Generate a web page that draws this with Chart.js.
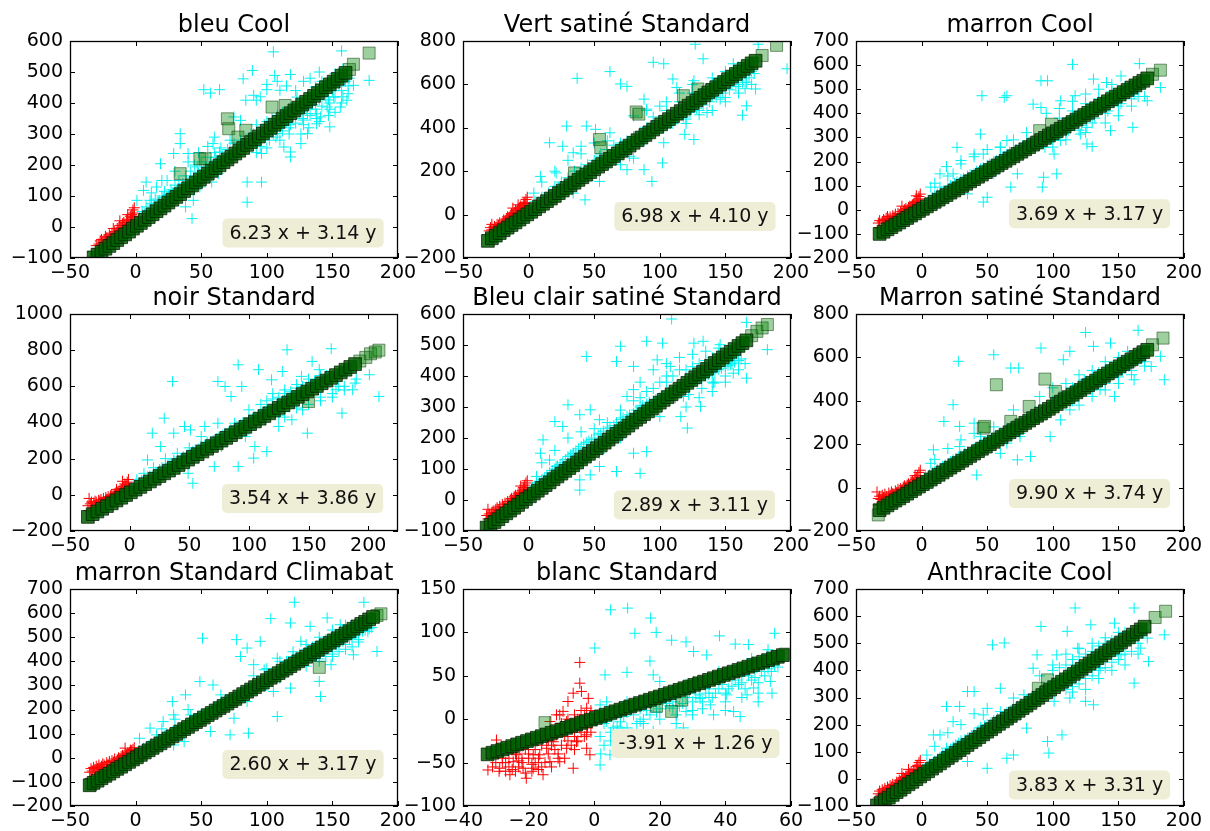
<!DOCTYPE html>
<html><head><meta charset="utf-8">
<script src="https://cdn.jsdelivr.net/npm/chart.js@4/dist/chart.umd.min.js"></script>
<style>
html,body{margin:0;padding:0;background:#fff;width:1210px;height:831px;overflow:hidden;position:relative;}
canvas{position:absolute;}
</style></head><body>
<script>
// ---------------- DATA ----------------
const titles = ['bleu Cool','Vert satiné Standard','marron Cool','noir Standard','Bleu clair satiné Standard','Marron satiné Standard','marron Standard Climabat','blanc Standard','Anthracite Cool'];
const equations = ['6.23 x + 3.14 y','6.98 x + 4.10 y','3.69 x + 3.17 y','3.54 x + 3.86 y','2.89 x + 3.11 y','9.90 x + 3.74 y','2.60 x + 3.17 y','-3.91 x + 1.26 y','3.83 x + 3.31 y'];
const xTicks = [
 [-50,0,50,100,150,200],[-50,0,50,100,150,200],[-50,0,50,100,150,200],
 [-50,0,50,100,150,200],[-50,0,50,100,150,200],[-50,0,50,100,150,200],
 [-50,0,50,100,150,200],[-40,-20,0,20,40,60],[-50,0,50,100,150,200]];
const xMax = [200,200,200,225,200,200,200,60,200];
const yTicks = [
 [-100,0,100,200,300,400,500,600],
 [-200,0,200,400,600,800],
 [-200,-100,0,100,200,300,400,500,600,700],
 [-200,0,200,400,600,800,1000],
 [-100,0,100,200,300,400,500,600],
 [-200,0,200,400,600,800],
 [-200,-100,0,100,200,300,400,500,600,700],
 [-100,-50,0,50,100,150],
 [-100,0,100,200,300,400,500,600,700]];
const noteAt = [[127.6,-19],[126.8,-9],[128,-16],[145,-20],[126.4,-16],[128,-27],[127.6,-28],[30.9,-28],[128,-22.6]];

// panel 1 — bleu Cool
const fit1 = [[-32,-98],[-29,-89],[-26,-80],[-23,-70],[-20,-61],[-17,-52],[-14,-42],[-11,-33],[-8,-24],[-5,-15],[-2,-5],[1,4],[4,13],[7,23],[10,32],[13,41],[16,51],[19,60],[22,69],[25,79],[28,88],[31,97],[34,106],[37,116],[40,125],[43,134],[46,144],[49,153],[52,162],[55,172],[58,181],[61,190],[64,199],[67,209],[70,218],[73,227],[76,237],[79,246],[82,255],[85,265],[88,274],[91,283],[94,292],[97,302],[100,311],[103,320],[106,330],[109,339],[112,348],[115,358],[118,367],[121,376],[124,385],[127,395],[130,404],[133,413],[136,423],[139,432],[142,441],[145,451],[148,460],[151,469],[154,478],[157,488],[160,497]];
const stray1 = [[34,172],[49,220],[53,220],[70,349],[71,317],[78,290],[84,312],[104,387],[114,392],[163,508],[166,525],[178,561]];
const cyan1 = [[105,565],[157,568],[89,505],[82,478],[106,489],[118,492],[52,443],[57,432],[64,443],[178,473],[166,457],[100,443],[90,425],[84,409],[92,409],[110,441],[123,419],[136,409],[151,419],[156,387],[141,355],[148,323],[131,301],[118,242],[113,258],[96,237],[85,258],[75,355],[80,344],[72,280],[64,242],[59,269],[54,194],[63,172],[58,145],[49,129],[44,86],[38,65],[43,27],[34,301],[34,269],[40,237],[47,194],[29,237],[19,204],[24,150],[16,129],[8,145],[6,118],[1,86],[11,86],[85,145],[85,80],[96,145],[126,269],[118,226],[108,301],[138,333],[146,441],[137,452],[159,473],[161,409],[131,366],[146,387],
 [8,65],[12,75],[15,90],[20,100],[22,115],[27,120],[30,135],[33,150],[38,165],[42,180],[5,50],[18,85],[25,105],[45,200],[50,210],[55,225],[60,240],[65,255],[62,215],[58,190],[75,270],[80,280],[88,300],[92,330],[98,290],[105,300],[110,320],[115,340],[120,355],[125,370],[130,380],[135,395],[140,410],[145,420],[150,440],[155,455],[160,470],[128,345],[138,365],[148,400],[118,330],[142,470],[152,495],[158,510],[108,360],[100,340],
 [3,30],[7,45],[11,55],[14,70],[17,80],[21,95],[24,95],[28,110],[31,118],[36,140],[39,150],[44,160],[48,175],[52,185],[57,205],[61,225],[66,230],[70,250],[95,260],[102,280],[107,290],[112,310],[117,320],[122,335],[127,350],[133,360],[137,380],[142,390],[147,410],[152,420],[157,440],[162,455],[98,330],[104,350],[112,370],[122,400],[132,425],[143,455],[153,480],[117,300],[128,330],[138,350],[148,380],[158,420],[163,480],[90,300],[86,285],[82,265],
 [95,420],[100,460],[108,470],[115,455],[122,440],[128,470],[133,480],[140,500],[126,300],[132,320],[140,340],[147,360],[152,370],[157,400],[162,430],[110,280],[100,255],[92,240],[60,290],[55,260],[48,240],[40,210],[30,180],[20,150],[12,110],[45,120],[52,160]];
const red1 = [[-30,-60],[-28,-55],[-27,-45],[-25,-50],[-24,-40],[-22,-35],[-21,-42],[-20,-25],[-19,-30],[-18,-20],[-16,-15],[-15,-22],[-14,-5],[-13,-10],[-12,5],[-11,-2],[-10,10],[-9,15],[-8,5],[-7,20],[-6,25],[-5,15],[-4,35],[-3,40],[-2,55],[-1,62],[-2,30],[-6,40],[-12,20],[-17,-5],[-23,-30],[-26,-40],
 [-29,-70],[-26,-60],[-23,-50],[-20,-40],[-17,-30],[-14,-20],[-11,-10],[-8,-2],[-5,8],[-3,20],[-1,35],[-2,45]];

// panel 2 — Vert satiné Standard
const fit2 = [[-31,-121],[-28,-109],[-25,-97],[-22,-85],[-19,-72],[-16,-60],[-13,-48],[-10,-36],[-7,-23],[-4,-11],[-1,1],[2,13],[5,25],[8,38],[11,50],[14,62],[17,74],[20,86],[23,99],[26,111],[29,123],[32,135],[35,147],[38,160],[41,172],[44,184],[47,196],[50,209],[53,221],[56,233],[59,245],[62,257],[65,270],[68,282],[71,294],[74,306],[77,318],[80,331],[83,343],[86,355],[89,367],[92,379],[95,392],[98,404],[101,416],[104,428],[107,440],[110,453],[113,465],[116,477],[119,489],[122,502],[125,514],[128,526],[131,538],[134,550],[137,563],[140,575],[143,587],[146,599],[149,611],[152,624],[155,636],[158,648],[161,660],[164,672],[167,685],[170,697],[173,709]];
const stray2 = [[35,192],[54,346],[55,308],[82,473],[84,463],[118,548],[129,579],[178,733],[189,780]];
const cyan2 = [[37,628],[62,659],[70,602],[75,591],[95,702],[103,695],[80,455],[90,486],[88,532],[110,625],[113,586],[126,617],[133,718],[156,695],[151,641],[166,610],[173,579],[163,458],[146,532],[136,470],[126,346],[119,370],[100,408],[103,331],[95,377],[166,501],[197,672],[175,785],[127,785],[29,408],[44,408],[51,393],[62,377],[16,331],[26,315],[34,285],[40,315],[54,269],[62,238],[75,207],[67,269],[88,207],[94,153],[54,153],[43,68],[34,99],[21,192],[9,176],[24,130],[4,99],[102,238],[77,269],
 [5,60],[10,80],[15,100],[20,130],[25,150],[30,170],[35,200],[40,215],[45,230],[50,250],[55,280],[60,300],[65,320],[70,330],[75,340],[80,360],[85,380],[90,400],[95,420],[100,430],[105,440],[110,460],[115,470],[120,480],[125,500],[130,520],[135,530],[140,545],[145,570],[150,580],[155,600],[160,620],[165,640],[170,660],[140,600],[150,640],[160,680],[130,480],[120,440],[110,420],[8,40],[28,110],[48,180],[68,255],[88,340],
 [4,40],[7,55],[12,70],[16,90],[19,110],[23,125],[27,140],[31,155],[37,175],[42,190],[47,205],[52,225],[57,250],[62,270],[67,290],[72,305],[78,330],[83,350],[88,360],[93,375],[98,390],[103,400],[108,420],[113,440],[118,450],[123,470],[128,490],[133,505],[138,520],[143,540],[148,560],[153,575],[158,590],[163,610],[168,630],[172,650],[125,560],[135,580],[145,610],[155,650],[165,680],[115,520],[105,480],[95,450],[150,540],[160,600],
 [90,480],[100,500],[105,520],[115,560],[125,600],[140,630],[150,660],[120,420],[130,460],[140,480],[150,520],[160,560],[165,580],[170,600],[60,340],[50,330],[40,280],[30,250],[20,200],[10,150],[45,180],[70,230],[80,260]];
const red2 = [[-30,-75],[-29,-60],[-28,-70],[-26,-55],[-25,-62],[-24,-45],[-23,-50],[-22,-38],[-20,-40],[-19,-25],[-18,-30],[-17,-20],[-16,-10],[-15,-15],[-14,-5],[-13,5],[-12,0],[-11,10],[-10,20],[-9,12],[-8,25],[-7,30],[-6,40],[-5,35],[-4,50],[-3,55],[-2,70],[-1,80],[-3,40],[-8,45],[-12,30],[-28,-45],
 [-29,-88],[-26,-76],[-23,-64],[-20,-51],[-17,-39],[-14,-27],[-11,-15],[-8,-3],[-5,10],[-3,18],[-1,30],[-2,50]];

// panel 3 — marron Cool
const fit3 = [[-32,-100],[-29,-91],[-26,-81],[-23,-72],[-20,-62],[-17,-53],[-14,-43],[-11,-34],[-8,-24],[-5,-15],[-2,-5],[1,4],[4,14],[7,23],[10,33],[13,42],[16,52],[19,61],[22,71],[25,80],[28,89],[31,99],[34,108],[37,118],[40,127],[43,137],[46,146],[49,156],[52,165],[55,175],[58,184],[61,194],[64,203],[67,213],[70,222],[73,232],[76,241],[79,251],[82,260],[85,270],[88,279],[91,289],[94,298],[97,308],[100,317],[103,326],[106,336],[109,345],[112,355],[115,364],[118,374],[121,383],[124,393],[127,402],[130,412],[133,421],[136,431],[139,440],[142,450],[145,459],[148,469],[151,478],[154,488],[157,497],[160,507],[163,516],[166,526],[169,535],[172,545]];
const stray3 = [[90,328],[99,355],[176,562],[182,579]];
const cyan3 = [[115,603],[166,606],[46,473],[63,466],[65,473],[91,535],[96,535],[85,438],[91,424],[106,452],[117,473],[131,542],[141,528],[152,555],[182,507],[172,452],[161,342],[144,328],[126,273],[130,262],[121,314],[106,287],[94,259],[101,231],[103,149],[93,135],[92,94],[73,231],[65,287],[60,259],[45,314],[47,231],[27,259],[30,204],[40,231],[19,179],[24,149],[14,149],[7,94],[14,94],[35,66],[50,52],[47,32],[60,179],[68,94],[85,273],[73,149],[55,149],[126,342],
 [5,40],[10,60],[15,75],[20,90],[25,110],[30,125],[35,140],[40,150],[45,170],[50,185],[55,200],[60,215],[65,230],[70,245],[75,255],[80,270],[85,285],[90,300],[95,315],[100,330],[105,345],[110,360],[115,375],[120,390],[125,400],[130,415],[135,430],[140,440],[145,455],[150,470],[155,485],[160,500],[165,515],[170,530],[120,330],[130,360],[140,400],[150,430],[160,460],[110,320],[100,290],[90,270],[165,470],[60,260],[70,290],[80,320],
 [3,30],[8,50],[12,65],[17,80],[22,100],[27,115],[32,130],[37,145],[42,160],[47,175],[52,190],[57,205],[62,220],[67,240],[72,250],[77,265],[82,280],[87,290],[92,305],[97,320],[102,335],[107,350],[112,365],[117,380],[122,395],[127,405],[132,420],[137,435],[142,445],[147,460],[152,475],[157,490],[162,505],[167,520],[105,380],[115,410],[125,440],[135,460],[145,490],[155,510],[112,330],[122,350],[132,380],[142,410],[152,440],[162,480],
 [95,400],[105,420],[115,450],[125,480],[135,500],[145,520],[100,260],[110,290],[125,320],[140,360],[150,390],[160,430],[170,470],[50,250],[40,220],[30,190],[20,140],[10,110],[60,200],[70,220]];
const red3 = [[-33,-55],[-32,-45],[-30,-50],[-29,-40],[-28,-45],[-27,-35],[-25,-38],[-24,-30],[-22,-25],[-21,-30],[-20,-18],[-18,-15],[-17,-20],[-16,-8],[-14,-5],[-13,0],[-12,5],[-11,-2],[-10,10],[-9,15],[-8,12],[-7,20],[-6,25],[-5,30],[-4,35],[-3,40],[-2,55],[-1,65],[-2,45],[-4,58],[-15,15],[-26,-28],
 [-32,-75],[-29,-66],[-26,-56],[-23,-47],[-20,-37],[-17,-28],[-14,-18],[-11,-9],[-8,1],[-5,10],[-3,17],[-1,23]];

// panel 4 — noir Standard
const fit4 = [[-35,-122],[-31,-107],[-27,-92],[-23,-77],[-19,-62],[-15,-47],[-11,-31],[-7,-16],[-3,-1],[1,14],[5,29],[9,44],[13,59],[17,74],[21,89],[25,104],[29,119],[33,134],[37,149],[41,165],[45,180],[49,195],[53,210],[57,225],[61,240],[65,255],[69,270],[73,285],[77,300],[81,315],[85,330],[89,346],[93,361],[97,376],[101,391],[105,406],[109,421],[113,436],[117,451],[121,466],[125,481],[129,496],[133,511],[137,526],[141,542],[145,557],[149,572],[153,587],[157,602],[161,617],[165,632],[169,647],[173,662],[177,677],[181,692],[185,707],[189,723]];
const stray4 = [[150,516],[193,740],[198,760],[202,780],[206,790],[209,800]];
const cyan4 = [[36,627],[132,802],[169,808],[91,719],[108,692],[74,627],[80,599],[94,599],[85,544],[119,636],[128,682],[153,738],[159,692],[144,655],[201,664],[209,544],[187,581],[178,452],[149,341],[136,415],[125,378],[115,239],[105,267],[97,322],[88,396],[74,396],[60,322],[63,378],[51,359],[46,378],[37,341],[29,424],[19,341],[26,267],[15,193],[12,119],[6,83],[23,119],[37,193],[53,64],[49,119],[71,156],[91,156],[104,203],[77,267],[173,581],[167,655],[189,618],
 [5,60],[10,80],[15,100],[20,120],[25,140],[30,160],[35,175],[40,190],[45,210],[50,230],[55,250],[60,270],[65,290],[70,300],[75,320],[80,340],[85,360],[90,380],[95,400],[100,410],[105,430],[110,450],[115,470],[120,480],[125,500],[130,520],[135,540],[140,560],[145,570],[150,590],[155,610],[160,620],[165,640],[170,650],[175,670],[180,690],[185,700],[120,560],[130,580],[140,610],[150,640],[160,660],[110,400],[130,460],[150,500],[170,560],[180,600],[190,640],[100,360],[90,340],
 [3,40],[8,65],[12,85],[17,105],[22,125],[27,150],[32,165],[38,185],[43,200],[48,220],[53,240],[58,255],[63,275],[68,295],[73,310],[78,330],[83,345],[88,365],[93,385],[98,395],[103,420],[108,440],[113,460],[118,470],[123,490],[128,510],[133,530],[138,545],[143,565],[148,580],[153,600],[158,610],[163,630],[168,645],[173,660],[178,680],[183,690],[188,700],[115,520],[125,540],[135,570],[145,600],[155,630],[165,660],[125,440],[140,480],[160,540],[175,600],
 [100,470],[110,500],[120,530],[130,560],[140,590],[150,620],[160,650],[130,430],[145,470],[160,520],[170,540],[180,580],[40,230],[30,200],[20,150],[50,260],[60,230],[70,250]];
const red4 = [[-35,-60],[-34,-20],[-33,-50],[-32,-40],[-30,-45],[-29,-35],[-28,-40],[-26,-30],[-25,-35],[-24,-25],[-22,-20],[-20,-15],[-19,-25],[-18,-10],[-16,-5],[-15,0],[-14,-8],[-13,5],[-12,10],[-10,15],[-9,20],[-8,25],[-7,30],[-6,35],[-5,45],[-4,60],[-3,55],[-2,70],[-1,85],[-3,40],[-6,75],[-11,30],
 [-34,-88],[-31,-77],[-28,-66],[-25,-54],[-22,-43],[-19,-32],[-16,-20],[-13,-9],[-10,2],[-7,14],[-4,25],[-1,36]];

// panel 5 — Bleu clair satiné Standard
const fit5 = [[-32,-89],[-29,-80],[-26,-71],[-23,-62],[-20,-52],[-17,-43],[-14,-34],[-11,-25],[-8,-16],[-5,-6],[-2,3],[1,12],[4,21],[7,30],[10,39],[13,48],[16,57],[19,67],[22,76],[25,85],[28,94],[31,103],[34,112],[37,121],[40,131],[43,140],[46,149],[49,158],[52,167],[55,176],[58,185],[61,195],[64,204],[67,213],[70,222],[73,231],[76,240],[79,250],[82,259],[85,268],[88,277],[91,286],[94,295],[97,304],[100,314],[103,323],[106,332],[109,341],[112,350],[115,359],[118,368],[121,378],[124,387],[127,396],[130,405],[133,414],[136,423],[139,433],[142,442],[145,451],[148,460],[151,469],[154,478],[157,487],[160,497],[163,506],[166,515]];
const stray5 = [[170,530],[174,544],[178,555],[182,566]];
const cyan5 = [[109,584],[166,573],[182,485],[44,463],[70,496],[67,447],[80,431],[90,512],[102,506],[98,452],[108,431],[126,506],[133,512],[146,501],[154,436],[166,393],[141,377],[131,302],[121,232],[116,269],[100,269],[80,356],[75,334],[75,237],[80,151],[90,156],[85,86],[67,92],[60,194],[54,259],[47,291],[39,275],[30,307],[20,253],[26,237],[11,194],[9,151],[16,129],[21,108],[34,151],[39,65],[47,81],[54,108],[6,76],[54,151],[39,32],[118,334],[156,409],
 [3,40],[6,55],[10,65],[14,80],[18,95],[22,110],[26,120],[30,140],[34,150],[38,165],[42,180],[46,190],[50,200],[55,215],[60,230],[65,240],[70,260],[75,270],[80,280],[85,300],[90,310],[95,320],[100,330],[105,340],[110,350],[115,360],[120,370],[125,380],[130,390],[135,400],[140,410],[145,420],[150,430],[155,440],[160,450],[100,380],[110,400],[120,420],[130,440],[140,460],[90,350],[80,320],[60,250],[70,290],[150,400],[140,380],[155,470],[160,480],
 [2,30],[5,45],[8,60],[12,70],[16,88],[20,100],[24,115],[28,130],[32,145],[36,158],[40,172],[44,185],[48,195],[53,210],[57,222],[62,235],[67,250],[72,265],[77,275],[82,290],[87,305],[92,315],[97,325],[102,335],[107,345],[112,355],[117,365],[122,375],[127,385],[132,395],[137,405],[142,415],[147,425],[152,435],[157,445],[162,455],[105,400],[115,420],[125,430],[135,450],[145,470],[105,380],[95,360],[85,330],[112,330],[122,340],[132,360],[142,380],
 [85,380],[95,420],[105,440],[115,460],[125,470],[135,480],[145,490],[120,300],[130,330],[140,350],[150,380],[160,420],[165,440],[40,220],[30,200],[20,160],[10,120],[50,230],[60,180],[70,200]];
const red5 = [[-32,-50],[-31,-30],[-30,-45],[-29,-55],[-28,-40],[-27,-35],[-26,-45],[-25,-30],[-24,-25],[-23,-35],[-22,-20],[-20,-15],[-19,-25],[-18,-10],[-16,-5],[-15,-12],[-14,0],[-13,5],[-12,-2],[-11,10],[-10,15],[-9,8],[-8,20],[-7,25],[-6,18],[-5,30],[-4,40],[-3,35],[-2,55],[-1,62],[-3,48],[-6,45],
 [-31,-61],[-28,-52],[-25,-43],[-22,-34],[-19,-24],[-16,-15],[-13,-6],[-10,3],[-7,12],[-4,21],[-2,27],[-1,32]];

// panel 6 — Marron satiné Standard
const fit6 = [[-32,-104],[-29,-93],[-26,-82],[-23,-71],[-20,-60],[-17,-50],[-14,-39],[-11,-28],[-8,-17],[-5,-6],[-2,5],[1,16],[4,26],[7,37],[10,48],[13,59],[16,70],[19,81],[22,92],[25,103],[28,113],[31,124],[34,135],[37,146],[40,157],[43,168],[46,179],[49,189],[52,200],[55,211],[58,222],[61,233],[64,244],[67,255],[70,265],[73,276],[76,287],[79,298],[82,309],[85,320],[88,331],[91,341],[94,352],[97,363],[100,374],[103,385],[106,396],[109,407],[112,417],[115,428],[118,439],[121,450],[124,461],[127,472],[130,483],[133,493],[136,504],[139,515],[142,526],[145,537],[148,548],[151,559],[154,569],[157,580],[160,591],[163,602],[166,613],[169,624],[172,635]];
const stray6 = [[-33,-126],[47,274],[48,282],[57,474],[68,305],[82,374],[94,500],[102,443],[176,658],[184,689]];
const cyan6 = [[125,715],[165,725],[28,582],[55,612],[68,551],[74,551],[91,643],[113,628],[108,589],[131,651],[144,666],[157,628],[182,605],[185,497],[162,497],[147,420],[136,451],[124,497],[106,312],[113,358],[98,235],[85,305],[75,235],[73,128],[83,143],[65,205],[50,188],[45,235],[40,297],[29,282],[24,382],[17,305],[9,174],[7,112],[19,97],[29,189],[42,58],[60,158],[70,358],[91,343],[175,558],[152,558],
 [3,50],[6,60],[10,75],[14,90],[18,105],[22,120],[26,135],[30,150],[35,165],[40,180],[45,200],[50,215],[55,235],[60,250],[65,270],[70,285],[75,300],[80,320],[85,335],[90,350],[95,365],[100,380],[105,390],[110,400],[115,420],[120,440],[125,455],[130,470],[135,490],[140,500],[145,520],[150,530],[155,550],[160,570],[165,590],[170,610],[105,420],[115,460],[125,490],[135,530],[145,560],[155,590],[165,620],[95,340],[85,310],[115,400],[160,540],[170,580],
 [2,45],[5,55],[8,68],[12,82],[16,98],[20,112],[24,128],[28,142],[33,158],[38,172],[43,190],[48,208],[53,225],[58,242],[63,260],[68,278],[73,292],[78,310],[83,328],[88,342],[93,358],[98,372],[103,385],[108,395],[113,410],[118,430],[123,448],[128,462],[133,480],[138,495],[143,510],[148,525],[153,540],[158,560],[163,580],[168,600],[110,440],[120,470],[130,500],[140,540],[150,570],[160,600],[120,420],[130,450],[140,480],[150,510],[100,400],[90,370],
 [90,420],[100,460],[110,480],[120,520],[130,540],[140,580],[150,600],[120,380],[130,420],[140,450],[150,480],[160,520],[170,560],[40,250],[30,220],[20,180],[10,130],[55,280],[65,220],[75,250]];
const red6 = [[-34,-20],[-33,-50],[-32,-40],[-31,-55],[-30,-35],[-29,-45],[-28,-30],[-27,-40],[-25,-25],[-24,-35],[-23,-20],[-22,-28],[-20,-15],[-19,-22],[-18,-8],[-16,-5],[-15,-12],[-14,2],[-13,8],[-12,0],[-11,12],[-10,18],[-9,10],[-8,25],[-7,30],[-6,22],[-5,38],[-4,45],[-3,55],[-2,70],[-1,80],[-5,55],
 [-33,-80],[-30,-69],[-27,-58],[-24,-47],[-21,-36],[-18,-25],[-15,-14],[-12,-4],[-9,7],[-6,18],[-3,29],[-1,36]];

// panel 7 — marron Standard Climabat
const fit7 = [[-35,-114],[-32,-104],[-29,-95],[-26,-85],[-23,-75],[-20,-66],[-17,-56],[-14,-46],[-11,-37],[-8,-27],[-5,-17],[-2,-7],[1,2],[4,12],[7,22],[10,31],[13,41],[16,51],[19,60],[22,70],[25,80],[28,89],[31,99],[34,109],[37,119],[40,128],[43,138],[46,148],[49,157],[52,167],[55,177],[58,186],[61,196],[64,206],[67,215],[70,225],[73,235],[76,244],[79,254],[82,264],[85,274],[88,283],[91,293],[94,303],[97,312],[100,322],[103,332],[106,341],[109,351],[112,361],[115,370],[118,380],[121,390],[124,400],[127,409],[130,419],[133,429],[136,438],[139,448],[142,458],[145,467],[148,477],[151,487],[154,496],[157,506],[160,516],[163,525],[166,535],[169,545],[172,555],[175,564],[178,574],[181,584]];
const stray7 = [[140,375],[-34,-110],[184,590],[187,597]];
const cyan7 = [[51,496],[121,645],[174,645],[103,577],[118,559],[95,483],[85,455],[80,420],[77,490],[90,386],[98,365],[108,413],[126,483],[133,545],[146,580],[156,552],[164,545],[177,524],[184,441],[166,427],[149,386],[140,317],[141,254],[108,171],[118,289],[105,275],[85,233],[75,164],[72,95],[86,102],[57,109],[49,150],[42,178],[38,261],[28,233],[29,178],[21,150],[11,123],[3,81],[16,95],[37,67],[29,53],[49,316],[59,302],[65,261],[151,496],
 [3,30],[6,40],[10,50],[14,65],[18,75],[22,90],[26,100],[30,115],[35,130],[40,145],[45,160],[50,175],[55,190],[60,210],[65,225],[70,240],[75,255],[80,270],[85,285],[90,300],[95,310],[100,320],[105,340],[110,355],[115,370],[120,380],[125,395],[130,410],[135,420],[140,435],[145,450],[150,460],[155,475],[160,490],[165,500],[170,520],[175,530],[180,540],[120,420],[130,450],[140,480],[150,500],[160,530],[170,560],[145,420],[155,440],[165,460],[100,300],[110,330],
 [2,25],[5,35],[8,45],[12,58],[16,70],[20,82],[24,95],[28,108],[33,122],[38,138],[43,152],[48,168],[53,182],[58,200],[63,218],[68,232],[73,248],[78,262],[83,278],[88,292],[93,305],[98,315],[103,330],[108,348],[113,362],[118,375],[123,388],[128,402],[133,415],[138,428],[143,442],[148,455],[153,468],[158,482],[163,495],[168,510],[173,525],[178,535],[115,400],[125,430],[135,460],[145,490],[155,510],[165,540],[140,410],[150,430],[160,450],[170,480],
 [90,340],[100,370],[110,400],[120,440],[130,470],[140,500],[150,530],[160,550],[130,380],[140,400],[150,420],[160,470],[170,490],[40,200],[30,160],[20,120],[50,180],[60,190]];
const red7 = [[-35,-60],[-34,-45],[-33,-55],[-32,-40],[-31,-50],[-30,-35],[-29,-45],[-28,-30],[-27,-40],[-26,-35],[-25,-25],[-24,-30],[-22,-20],[-21,-28],[-20,-15],[-18,-12],[-17,-18],[-16,-5],[-14,-8],[-13,0],[-12,-3],[-11,5],[-10,10],[-9,8],[-8,15],[-7,12],[-6,20],[-5,18],[-4,25],[-3,30],[-2,35],[-1,42],[-8,40],[-4,32],
 [-34,-86],[-31,-76],[-28,-66],[-25,-57],[-22,-47],[-19,-37],[-16,-28],[-13,-18],[-10,-8],[-7,1],[-4,11],[-1,21]];

// panel 8 — blanc Standard
const fit8 = [[-32.5,-40.5],[-31,-38.6],[-29.5,-36.7],[-28,-34.8],[-26.5,-32.9],[-25,-31],[-23.5,-29],[-22,-27.1],[-20.5,-25.2],[-19,-23.3],[-17.5,-21.4],[-16,-19.5],[-14.5,-17.6],[-13,-15.7],[-11.5,-13.8],[-10,-11.9],[-8.5,-10],[-7,-8.1],[-5.5,-6.2],[-4,-4.3],[-2.5,-2.4],[-1,-0.5],[0.5,1.4],[2,3.3],[3.5,5.2],[5,7.2],[6.5,9.1],[8,11],[9.5,12.9],[11,14.8],[12.5,16.7],[14,18.6],[15.5,20.5],[17,22.4],[18.5,24.3],[20,26.2],[21.5,28.1],[23,30],[24.5,31.9],[26,33.8],[27.5,35.7],[29,37.6],[30.5,39.5],[32,41.4],[33.5,43.3],[35,45.3],[36.5,47.2],[38,49.1],[39.5,51],[41,52.9],[42.5,54.8],[44,56.7],[45.5,58.6],[47,60.5],[48.5,62.4],[50,64.3],[51.5,66.2],[53,68.1],[54.5,70],[56,71.9],[57.5,73.8]];
const stray8 = [[-15,-4],[19,15],[23.6,9],[26.7,22],[55.7,72],[58.3,75]];
const cyan8 = [[5,126],[10.2,128],[17.2,116.5],[12.4,99],[18.9,100],[0.2,82],[23.6,91],[10,54],[3.3,51],[17,67],[18,51],[28,89],[30.3,78],[34.3,74],[38.2,96],[43,86.5],[47,86],[55,99],[52.7,74],[53.7,43.5],[54.2,30],[48.6,36],[44.5,3],[40.4,28],[35.4,16.5],[32.3,24],[28,9],[24,12.7],[17,5],[12,20],[7.9,9],[3.8,-2.7],[1.8,16.5],[3.8,20],[5.8,-10],[1.8,-20],[4.8,-41],[1.8,-52.7],[18,-14],[11,-26],[27.2,-10],[42.5,8.8],[36.4,5],[20,43.5],[30.3,43.5],[40.4,51],[49.6,59],[46.6,28],[14,-2.7],[7.9,-10],
 [2,0],[4,5],[6,2],[8,-3],[10,8],[12,5],[14,12],[16,10],[18,15],[20,12],[22,18],[24,20],[26,15],[28,25],[30,20],[32,28],[34,30],[36,25],[38,35],[40,30],[42,38],[44,40],[46,35],[48,45],[50,42],[52,50],[54,55],[56,60],[10,20],[20,30],[30,10],[40,20],[50,30],[45,50],[35,40],[25,5],[15,-5],[5,-15],[8,-20],[3,-30],[25,-5],[33,12],
 [1,5],[3,-5],[5,8],[7,-8],[9,3],[11,10],[13,-5],[15,15],[17,18],[19,8],[21,22],[23,15],[25,25],[27,18],[29,30],[31,25],[33,20],[35,35],[37,30],[39,40],[41,35],[43,45],[45,42],[47,50],[49,48],[51,55],[53,58],[55,62],[20,0],[30,5],[40,10],[50,20],[45,25],[35,25],[15,0],[10,-10],[5,-25],[2,-40],[28,40],[38,55],[48,70],[53,80]];
const red8 = [[-4.4,65.4],[-4.4,41.5],[-3.9,32],[-6.4,30],[-8,20.4],[-11.5,5],[-10.5,5],[-9.5,9],[-1.8,24],[-2.3,12.7],[-13.5,-2.7],[-8.4,-2.7],[-4.4,-10],[-2.3,-18],[-1.3,-41],[-5.4,-26],[-8.4,-33.5],[-12.5,-26],[-16.6,-41],[-18.6,-56.5],[-21.7,-56.5],[-24.7,-49],[-28.8,-56.5],[-32.4,-58.5],[-29.8,-24],[-20.7,-68],[-15.6,-64],[-23.7,-41],[-18.6,-41],[-13.5,-49],[-10.5,-49],[-6.4,-56.5],[-2.3,-33.5],[-25.7,-64],[-11.5,-18],[-15.6,-18],[-7.4,-10],[-3.4,-2.7],[-14.5,-33.5],[-22.7,-33.5],
 [-30,-50],[-28,-45],[-26,-55],[-24,-60],[-22,-50],[-20,-45],[-18,-50],[-16,-55],[-14,-40],[-12,-35],[-10,-30],[-8,-25],[-6,-20],[-4,-15],[-2,-10],[-27,-60],[-23,-55],[-19,-60],[-17,-45],[-13,-30],[-9,-20],[-7,-10],[-5,0],[-3,5],[-1,10],[-6,-35],[-11,-45],[-21,-35],
 [-31,-55],[-29,-60],[-27,-50],[-25,-58],[-23,-48],[-21,-62],[-19,-52],[-17,-58],[-15,-50],[-13,-55],[-11,-40],[-9,-45],[-7,-30],[-5,-25],[-3,-20],[-1,-15],[-2,0],[-4,10],[-6,5],[-8,0],[-10,-5],[-12,-20],[-14,-25],[-16,-30],[-18,-35],[-20,-40],[-22,-45],[-24,-40],[-26,-45],[-28,-50]];

// panel 9 — Anthracite Cool
const fit9 = [[-34,-98],[-31,-88],[-28,-78],[-25,-69],[-22,-59],[-19,-49],[-16,-40],[-13,-30],[-10,-20],[-7,-11],[-4,-1],[-1,9],[2,18],[5,28],[8,38],[11,48],[14,57],[17,67],[20,77],[23,86],[26,96],[29,106],[32,115],[35,125],[38,135],[41,144],[44,154],[47,164],[50,174],[53,183],[56,193],[59,203],[62,212],[65,222],[68,232],[71,241],[74,251],[77,261],[80,270],[83,280],[86,290],[89,299],[92,309],[95,319],[98,329],[101,338],[104,348],[107,358],[110,367],[113,377],[116,387],[119,396],[122,406],[125,416],[128,425],[131,435],[134,445],[137,455],[140,464],[143,474],[146,484],[149,493],[152,503],[155,513],[158,522],[161,532],[164,542],[167,551],[170,561]];
const stray9 = [[89,334],[96,365],[178,595],[186,618]];
const cyan9 = [[117,630],[162,630],[54,494],[63,501],[91,562],[111,544],[129,568],[147,574],[185,531],[173,433],[162,353],[131,273],[125,286],[113,298],[101,286],[96,138],[97,95],[107,162],[88,457],[85,408],[103,457],[119,482],[136,408],[149,470],[60,334],[70,298],[78,310],[35,322],[40,322],[29,267],[19,267],[24,211],[14,162],[9,162],[4,88],[19,113],[35,64],[50,39],[65,76],[70,88],[60,248],[47,236],[50,162],[80,187],[172,519],[152,457],[167,482],
 [3,40],[6,55],[10,65],[14,80],[18,95],[22,110],[26,125],[30,140],[35,150],[40,170],[45,190],[50,200],[55,215],[60,230],[65,245],[70,260],[75,275],[80,290],[85,300],[90,320],[95,335],[100,350],[105,365],[110,380],[115,395],[120,405],[125,420],[130,435],[135,450],[140,460],[145,475],[150,490],[155,505],[160,520],[165,530],[170,545],[100,400],[110,420],[120,450],[130,470],[140,500],[150,520],[110,330],[120,350],[130,380],[140,410],[150,440],[160,470],
 [2,35],[5,48],[8,58],[12,72],[16,88],[20,102],[24,118],[28,132],[33,145],[38,160],[43,178],[48,195],[53,208],[58,222],[63,238],[68,252],[73,268],[78,282],[83,295],[88,310],[93,328],[98,342],[103,358],[108,372],[113,388],[118,400],[123,412],[128,428],[133,442],[138,455],[143,468],[148,482],[153,498],[158,512],[163,525],[168,538],[105,410],[115,440],[125,460],[135,490],[145,510],[155,540],[115,340],[125,370],[135,400],[145,430],[155,460],[165,500],
 [90,380],[100,420],[110,460],[120,480],[130,500],[140,520],[150,540],[115,320],[125,330],[135,370],[145,400],[155,420],[165,460],[40,240],[30,200],[20,170],[10,120],[50,260],[60,200],[70,220]];
const red9 = [[-33,-55],[-32,-45],[-31,-60],[-30,-40],[-29,-50],[-28,-35],[-27,-45],[-26,-30],[-25,-38],[-24,-25],[-23,-32],[-22,-20],[-20,-22],[-19,-12],[-18,-18],[-17,-5],[-16,-10],[-15,0],[-14,5],[-13,-2],[-12,10],[-11,15],[-10,8],[-9,20],[-8,25],[-7,18],[-6,30],[-5,35],[-4,45],[-3,50],[-2,60],[-1,68],[-10,35],[-15,20],
 [-33,-70],[-30,-60],[-27,-50],[-24,-41],[-21,-31],[-18,-21],[-15,-11],[-12,-2],[-9,8],[-6,18],[-3,27],[-1,34]];

const fits = [fit1,fit2,fit3,fit4,fit5,fit6,fit7,fit8,fit9];
const strays = [stray1,stray2,stray3,stray4,stray5,stray6,stray7,stray8,stray9];
const cyans = [cyan1,cyan2,cyan3,cyan4,cyan5,cyan6,cyan7,cyan8,cyan9];
const reds = [red1,red2,red3,red4,red5,red6,red7,red8,red9];

// ---------------- RENDER ----------------
const FONT = "'DejaVu Sans', 'Liberation Sans', sans-serif";
const colLeft = [0, 393, 786];
const rowTop = [0, 273, 548];
const CW = 425, CH = 293;
const fmt = v => (v < 0 ? '\u2212' + (-v) : String(v));
const toXY = arr => arr.map(p => ({x: p[0], y: p[1]}));

const decorPlugin = {
  id: 'decor',
  afterDatasetsDraw(chart, args, opts) {
    const ctx = chart.ctx, a = chart.chartArea;
    const xs = chart.scales.x, ys = chart.scales.y;
    ctx.save();
    // annotation box
    ctx.font = '19px ' + FONT;
    const tw = ctx.measureText(opts.note).width;
    const cx = xs.getPixelForValue(opts.noteAt[0]);
    const cy = ys.getPixelForValue(opts.noteAt[1]);
    const bw = tw + 14, bh = 29, r = 5;
    const bx = cx - bw / 2, by = cy - bh / 2;
    ctx.beginPath();
    ctx.moveTo(bx + r, by);
    ctx.arcTo(bx + bw, by, bx + bw, by + bh, r);
    ctx.arcTo(bx + bw, by + bh, bx, by + bh, r);
    ctx.arcTo(bx, by + bh, bx, by, r);
    ctx.arcTo(bx, by, bx + bw, by, r);
    ctx.closePath();
    ctx.fillStyle = '#eeeed6';
    ctx.fill();
    ctx.fillStyle = '#111';
    ctx.textAlign = 'center';
    ctx.textBaseline = 'middle';
    ctx.fillText(opts.note, cx, cy + 1);
    // frame
    ctx.strokeStyle = '#000';
    ctx.lineWidth = 1.3;
    ctx.strokeRect(a.left + 0.5, a.top + 0.5, a.right - a.left - 1, a.bottom - a.top - 1);
    // inward ticks on all four sides
    ctx.lineWidth = 1;
    const L = 5;
    ctx.beginPath();
    xs.ticks.forEach(t => {
      const px = Math.round(xs.getPixelForValue(t.value)) + 0.5;
      ctx.moveTo(px, a.bottom); ctx.lineTo(px, a.bottom - L);
      ctx.moveTo(px, a.top); ctx.lineTo(px, a.top + L);
    });
    ys.ticks.forEach(t => {
      const py = Math.round(ys.getPixelForValue(t.value)) + 0.5;
      ctx.moveTo(a.left, py); ctx.lineTo(a.left + L, py);
      ctx.moveTo(a.right, py); ctx.lineTo(a.right - L, py);
    });
    ctx.stroke();
    // title
    ctx.font = '24px ' + FONT;
    ctx.fillStyle = '#000';
    ctx.textAlign = 'center';
    ctx.textBaseline = 'alphabetic';
    ctx.fillText(opts.title, (a.left + a.right) / 2, a.top - 9);
    ctx.restore();
  }
};

for (let i = 0; i < 9; i++) {
  const c = document.createElement('canvas');
  c.width = CW; c.height = CH;
  c.style.width = CW + 'px'; c.style.height = CH + 'px';
  c.style.left = colLeft[i % 3] + 'px';
  c.style.top = rowTop[Math.floor(i / 3)] + 'px';
  document.body.appendChild(c);
  const xt = xTicks[i], yt = yTicks[i];
  new Chart(c, {
    type: 'scatter',
    data: {
      datasets: [
        {label: 'fit', data: toXY(fits[i]), pointStyle: 'rect', pointRadius: 9,
         backgroundColor: 'rgba(0,95,0,0.85)', borderColor: 'rgba(0,30,0,0.75)', borderWidth: 1, clip: 0},
        {label: 'fit (isolated)', data: toXY(strays[i]), pointStyle: 'rect', pointRadius: 8.5,
         backgroundColor: 'rgba(0,128,0,0.38)', borderColor: 'rgba(0,60,0,0.5)', borderWidth: 1, clip: 0},
        {label: 'red', data: toXY(reds[i]), pointStyle: 'cross', pointRadius: 5.5,
         borderColor: '#ff0000', backgroundColor: '#ff0000', borderWidth: 1, clip: 0},
        {label: 'cyan', data: toXY(cyans[i]), pointStyle: 'cross', pointRadius: 5.5,
         borderColor: '#00f2f2', backgroundColor: '#00f2f2', borderWidth: 1, clip: 0}
      ]
    },
    options: {
      responsive: false, animation: false, devicePixelRatio: 1, events: [],
      layout: {padding: {top: 41, right: 27, left: 0, bottom: 0}},
      plugins: {
        legend: {display: false}, tooltip: {enabled: false},
        decor: {title: titles[i], note: equations[i], noteAt: noteAt[i]}
      },
      scales: {
        x: {
          type: 'linear', min: xt[0], max: xMax[i],
          grid: {display: false, drawTicks: false}, border: {display: false},
          afterBuildTicks: s => { s.ticks = xt.map(v => ({value: v})); },
          afterFit: s => { s.height = 35; },
          ticks: {padding: 4, color: '#000', font: {family: FONT, size: 19}, callback: fmt, maxRotation: 0, autoSkip: false}
        },
        y: {
          type: 'linear', min: yt[0], max: yt[yt.length - 1],
          grid: {display: false, drawTicks: false}, border: {display: false},
          afterBuildTicks: s => { s.ticks = yt.map(v => ({value: v})); },
          afterFit: s => { s.width = 70; },
          ticks: {padding: 7, color: '#000', font: {family: FONT, size: 19}, callback: fmt, autoSkip: false}
        }
      }
    },
    plugins: [decorPlugin]
  });
}
</script>
</body></html>
